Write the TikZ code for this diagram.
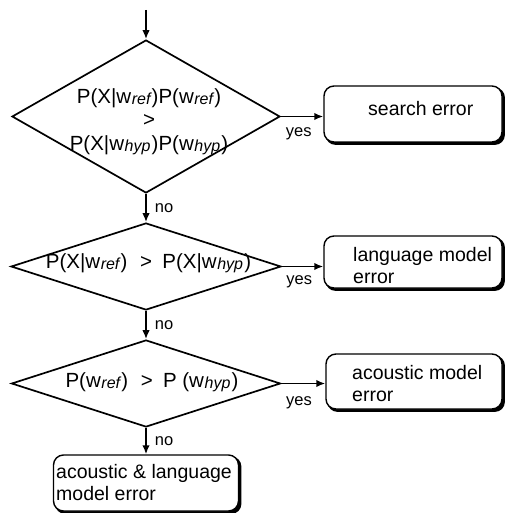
\documentclass[tikz,border=0pt]{standalone}
\usepackage{fontspec}
\setmainfont{Liberation Sans}
\usetikzlibrary{shapes.geometric,arrows.meta}
\pgfdeclarelayer{background}
\pgfsetlayers{background,main}
% italic index set a little smaller and lower than the word it follows
\newcommand\idx[1]{\kern0.6pt\raisebox{-1.2pt}{\fontsize{16}{16}\selectfont\itshape #1}\kern1.2pt}
\newcommand\gtsym{\hspace{0.62em}>\hspace{0.5em}}

\begin{document}
\begin{tikzpicture}[x=1pt,y=-1pt,
  test/.style={draw, shape=diamond, line width=1.7pt, inner sep=0pt},
  outcome/.style={draw, rectangle, rounded corners=10pt, line width=1.4pt, fill=white, inner sep=0pt},
  boxshadow/.style={fill=black, rounded corners=10pt},
  cond/.style={font=\fontsize{20.5}{23.5}\selectfont, align=center, inner sep=0pt, anchor=base},
  body/.style={font=\fontsize{19.5}{21.5}\selectfont, align=left, inner sep=0pt, anchor=base west},
  lbl/.style={font=\fontsize{16.5}{18}\selectfont, inner sep=0pt},
  flow/.style={line width=1.9pt, -{Latex[length=9pt,width=7.5pt]}}
]
\useasboundingbox (0,0) rectangle (506,513);

% decision diamonds
\node[test, minimum width=268pt, minimum height=153pt] (d1) at (146,116.5) {};
\node[test, minimum width=270pt, minimum height=87pt] (d2) at (146,266.5) {};
\node[test, minimum width=269pt, minimum height=87pt] (d3) at (146,383.5) {};

% conditions (multi-line nodes are placed by the baseline of their last line)
\node[cond] (c1) at (149,150) {P(X|w\idx{ref})P(w\idx{ref})\\>\\P(X|w\idx{hyp})P(w\idx{hyp})};
\node[cond] (c2) at (148.5,268) {P(X|w\idx{ref})\gtsym P(X|w\idx{hyp})};
\node[cond] (c3) at (152,387) {P(w\idx{ref})\gtsym P (w\idx{hyp})};

% outcome boxes
\node[outcome, minimum width=178pt, minimum height=56pt] (b1) at (413,114) {};
\node[body] (t1) at (368,116) {search error};
\node[outcome, minimum width=178pt, minimum height=52pt] (b2) at (413,262) {};
\node[body] (t2) at (353,283) {language model\\error};
\node[outcome, minimum width=176pt, minimum height=55pt] (b3) at (414,381.5) {};
\node[body] (t3) at (352,401) {acoustic model\\error};
\node[outcome, minimum width=185pt, minimum height=56pt] (b4) at (146,483) {};
\node[body] (t4) at (56,500) {acoustic \& language\\model error};

% offset shadows behind the boxes
\begin{pgfonlayer}{background}
  \foreach \b in {b1,b2,b3,b4}
    \fill[boxshadow] ([xshift=2.2pt,yshift=-2.2pt]\b.south west) rectangle ([xshift=2.2pt,yshift=-2.2pt]\b.north east);
\end{pgfonlayer}

% connectors
\coordinate (start) at (146,10);
\draw[flow] (start) -- (d1.north);
\draw[flow] (d1.east) -- node[lbl, below=10pt, pos=0.42] {yes} (d1.east -| b1.west);
\draw[flow] (d1.south) -- node[lbl, right=8pt] {no} (d2.north);
\draw[flow] (d2.east) -- node[lbl, below=8pt, pos=0.42] {yes} (d2.east -| b2.west);
\draw[flow] (d2.south) -- node[lbl, right=8pt] {no} (d3.north);
\draw[flow] (d3.east) -- node[lbl, below=12pt, pos=0.4] {yes} (d3.east -| b3.west);
\draw[flow] (d3.south) -- node[lbl, right=8pt] {no} (b4.north);
\end{tikzpicture}
\end{document}
